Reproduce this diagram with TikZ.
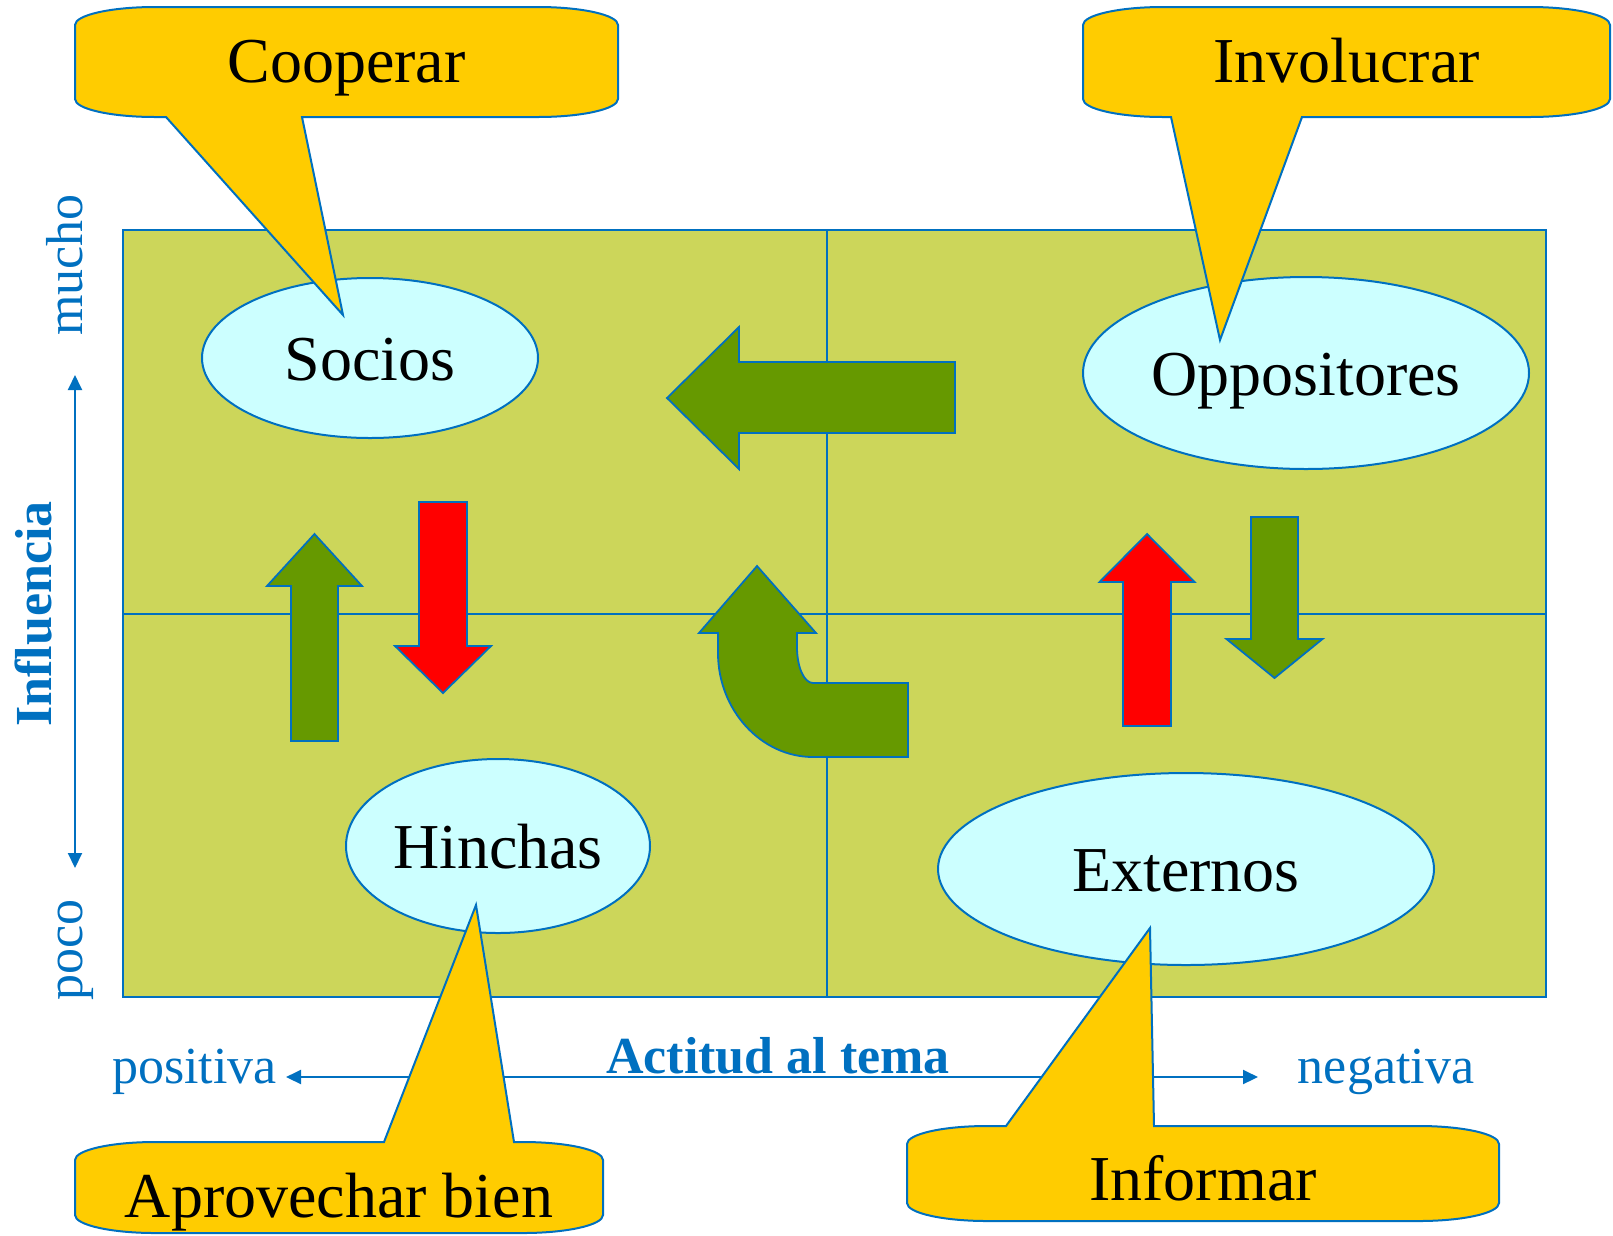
\documentclass[tikz,border=0pt]{standalone}
\usepackage{fontspec}
\setmainfont{Liberation Serif}
\usetikzlibrary{shapes.geometric,arrows.meta}
\definecolor{axisblue}{RGB}{0,112,192}
\definecolor{fieldgreen}{RGB}{204,214,90}
\definecolor{arrowgreen}{RGB}{102,153,0}
\definecolor{groupcyan}{RGB}{204,255,255}
\definecolor{calloutyellow}{RGB}{255,204,0}

\begin{document}
\begin{tikzpicture}[x=1pt,y=-1pt,
  outline/.style={draw=axisblue,line width=2pt},
  grupo/.style={outline,ellipse,fill=groupcyan,inner sep=0pt,
    text height=45pt,text depth=0pt,font=\fontsize{64}{70}\selectfont},
  blockarrow/.style={outline,line width=1.8pt},
  callout/.style={outline,fill=calloutyellow},
  calltext/.style={anchor=base,inner sep=0pt,font=\fontsize{64}{70}\selectfont},
  axislabel/.style={anchor=base,inner sep=0pt,text=axisblue,
    font=\fontsize{52}{56}\selectfont}]

\useasboundingbox (0,0) rectangle (1613,1235);

\coordinate (cNWPt) at (123,230);
\coordinate (cSEPt) at (1546,997);
\coordinate (cMidTopPt) at (827,230);
\coordinate (cMidBotPt) at (827,997);
\coordinate (cMidLeftPt) at (123,614);
\coordinate (cMidRightPt) at (1546,614);
\coordinate (cVTopPt) at (75,375);
\coordinate (cVBotPt) at (75,868);
\coordinate (cHLeftPt) at (286,1077);
\coordinate (cHRightPt) at (1258,1077);

% field
\draw[outline,fill=fieldgreen] (cNWPt) rectangle (cSEPt);
\draw[outline] (cMidTopPt) -- (cMidBotPt);
\draw[outline] (cMidLeftPt) -- (cMidRightPt);

\foreach \n/\x/\y/\w/\h/\t in
{   socios/370/358/336/160/Socios,
    oppos/1306/373/446/192/Oppositores,
    hinchas/498/846/304/174/Hinchas,
    externos/1186/869/496/192/Externos}
{
    \node[grupo,minimum width=\w pt,minimum height=\h pt] (\n) at (\x,\y) {\t};
};

% block arrows
\draw[blockarrow,fill=arrowgreen] (667,398) -- (739,327) -- (739,362) -- (955,362)
    -- (955,433) -- (739,433) -- (739,469) -- cycle;
\foreach \cx/\sw/\hw/\tip/\base/\tail/\col in
{   314.5/23.5/47.5/534/586/741/arrowgreen,
    443/24/48/693/646/502/red,
    1147/24/47.5/534/582/726/red,
    1274.5/23.5/48/678/639/517/arrowgreen}
{
    \draw[blockarrow,fill=\col] ({\cx-\sw},\tail) -- ({\cx-\sw},\base) -- ({\cx-\hw},\base)
        -- (\cx,\tip) -- ({\cx+\hw},\base) -- ({\cx+\sw},\base) -- ({\cx+\sw},\tail) -- cycle;
};
\draw[blockarrow,fill=arrowgreen] (757,566) -- (816,633) -- (797,633) -- (797,647)
    .. controls (797,667) and (804,683) .. (813,683) -- (908,683) -- (908,757)
    -- (813,757) .. controls (761,757) and (718,710) .. (718,653)
    -- (718,633) -- (699,633) -- cycle;

% axes
\draw[axisblue,line width=2pt,{Triangle[length=15pt,width=14pt]}-{Triangle[length=15pt,width=14pt]}]
    (cVTopPt) -- (cVBotPt);
\draw[axisblue,line width=2pt,{Triangle[length=15pt,width=14pt]}-{Triangle[length=15pt,width=14pt]}]
    (cHLeftPt) -- (cHRightPt);
\node[axislabel,rotate=90] (mucho) at (82,265) {mucho};
\node[axislabel,rotate=90] (poco) at (82,950) {poco};
\node[axislabel,rotate=90,font=\fontsize{52}{56}\selectfont\bfseries] (influencia) at (51,614) {Influencia};
\node[axislabel] (positiva) at (194.5,1083) {positiva};
\node[axislabel] (negativa) at (1386,1083) {negativa};
\node[axislabel,font=\fontsize{52}{56}\selectfont\bfseries] (actitud) at (778,1073) {Actitud al tema};

% callouts
\foreach \n/\l/\r/\t/\b/\pa/\pb/\tx/\ty/\bl/\txt in
{   coop/75/618/7/117/166/302/343/315/82/Cooperar,
    invol/1083/1610/7/117/1171/1302/1220/340/82/Involucrar}
{
    \draw[callout] ({\l+80},\t) -- ({\r-80},\t)
        .. controls ({\r-36},\t) and (\r,{\t+8}) .. (\r,{\t+18}) -- (\r,{\b-18})
        .. controls (\r,{\b-8}) and ({\r-36},\b) .. ({\r-80},\b)
        -- (\pb,\b) -- (\tx,\ty) -- (\pa,\b) -- ({\l+80},\b)
        .. controls ({\l+36},\b) and (\l,{\b-8}) .. (\l,{\b-18}) -- (\l,{\t+18})
        .. controls (\l,{\t+8}) and ({\l+36},\t) .. ({\l+80},\t) -- cycle;
    \node[calltext] (\n) at ({(\l+\r)/2},\bl) {\txt};
};
\foreach \n/\l/\r/\t/\b/\pa/\pb/\tx/\ty/\bl/\txt in
{   aprov/75/603/1142/1233/384/514/476/905/1217/Aprovechar bien,
    inform/907/1499/1126/1221/1006/1154/1150/928/1200/Informar}
{
    \draw[callout] ({\l+80},\t) -- (\pa,\t) -- (\tx,\ty) -- (\pb,\t) -- ({\r-80},\t)
        .. controls ({\r-36},\t) and (\r,{\t+8}) .. (\r,{\t+18}) -- (\r,{\b-18})
        .. controls (\r,{\b-8}) and ({\r-36},\b) .. ({\r-80},\b) -- ({\l+80},\b)
        .. controls ({\l+36},\b) and (\l,{\b-8}) .. (\l,{\b-18}) -- (\l,{\t+18})
        .. controls (\l,{\t+8}) and ({\l+36},\t) .. ({\l+80},\t) -- cycle;
    \node[calltext] (\n) at ({(\l+\r)/2},\bl) {\txt};
};
\end{tikzpicture}
\end{document}
